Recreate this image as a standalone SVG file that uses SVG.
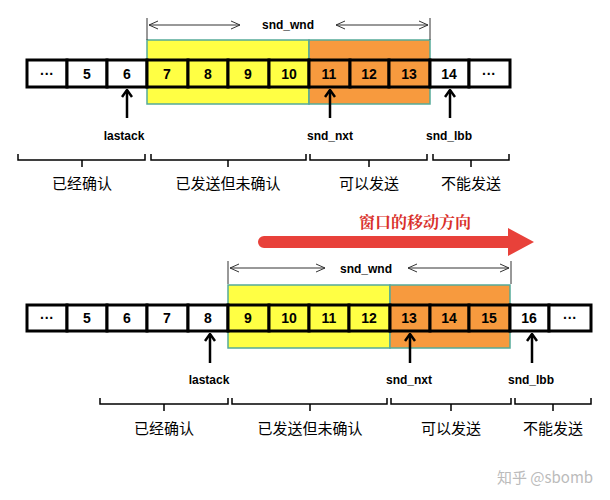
<svg xmlns="http://www.w3.org/2000/svg" width="610" height="500" viewBox="0 0 610 500">
<defs>
<marker id="open" markerWidth="10" markerHeight="10" refX="9" refY="5" orient="auto-start-reverse" markerUnits="userSpaceOnUse"><path d="M0,1 L9,5 L0,9" fill="none" stroke="#333" stroke-width="1"/></marker>
<marker id="up" markerWidth="12" markerHeight="12" refX="6" refY="1" orient="0" markerUnits="userSpaceOnUse"><path d="M1,8 L6,1 L11,8" fill="none" stroke="#000" stroke-width="2.5"/></marker>
</defs>
<style>
.c{fill:#fff;stroke:#000;stroke-width:3}
.y{fill:#ffff44}.o{fill:#f79a3e}
.t{font-family:"Liberation Sans",sans-serif;font-weight:bold;font-size:14px;text-anchor:middle}
.lab{font-family:"Liberation Sans",sans-serif;font-weight:bold;font-size:12px;text-anchor:middle}
.zh{font-family:"Noto Sans CJK SC",sans-serif;font-size:15px;text-anchor:middle}
.br{fill:none;stroke:#000;stroke-width:1.5}
.ar{stroke:#000;stroke-width:2.5;marker-end:url(#up)}
.w{stroke:#333;stroke-width:1;marker-start:url(#open);marker-end:url(#open)}
</style>
<rect width="610" height="500" fill="#fff"/>
<g id="top">
<rect x="147" y="40" width="162" height="64" class="y" stroke="#5a9" stroke-width="1.5"/>
<rect x="309" y="40" width="121" height="64" class="o" stroke="#5a9" stroke-width="1.5"/>
<g id="cells1">
<rect x="27" y="60" width="40" height="27" class="c"/><rect x="67" y="60" width="40" height="27" class="c"/><rect x="107" y="60" width="40" height="27" class="c"/>
<rect x="147" y="60" width="41" height="27" class="c y"/><rect x="188" y="60" width="40" height="27" class="c y"/><rect x="228" y="60" width="41" height="27" class="c y"/><rect x="269" y="60" width="40" height="27" class="c y"/>
<rect x="309" y="60" width="41" height="27" class="c o"/><rect x="350" y="60" width="39" height="27" class="c o"/><rect x="389" y="60" width="41" height="27" class="c o"/>
<rect x="430" y="60" width="39" height="27" class="c"/><rect x="469" y="60" width="41" height="27" class="c"/>
</g>
<g class="t">
<text x="47" y="79">···</text><text x="87" y="79">5</text><text x="127" y="79">6</text><text x="167" y="79">7</text><text x="208" y="79">8</text><text x="248" y="79">9</text><text x="289" y="79">10</text><text x="329" y="79">11</text><text x="369" y="79">12</text><text x="409" y="79">13</text><text x="449" y="79">14</text><text x="489" y="79">···</text>
</g>
<g class="lab"><text x="124" y="140">lastack</text><text x="330" y="140">snd_nxt</text><text x="449" y="140">snd_lbb</text><text x="288" y="29">snd_wnd</text></g>
<g class="zh"><text x="82" y="189">已经确认</text><text x="228" y="189">已发送但未确认</text><text x="369" y="189">可以发送</text><text x="471" y="189">不能发送</text></g>
</g>
<g id="bottom">
<path d="M264,236 H508 V228 L534,242 L508,256 V248 H264 A6,6 0 0 1 264,236 Z" fill="#e8413a"/>
<text x="415" y="228" font-family="Noto Serif CJK SC,Noto Sans CJK SC,serif" font-weight="bold" font-size="16" fill="#d9302a" text-anchor="middle">窗口的移动方向</text>
<rect x="228" y="285" width="162" height="63" class="y" stroke="#5a9" stroke-width="1.5"/>
<rect x="390" y="285" width="120" height="63" class="o" stroke="#5a9" stroke-width="1.5"/>
<g id="cells2">
<rect x="27" y="305" width="40" height="26" class="c"/><rect x="67" y="305" width="40" height="26" class="c"/><rect x="107" y="305" width="40" height="26" class="c"/><rect x="147" y="305" width="41" height="26" class="c"/><rect x="188" y="305" width="40" height="26" class="c"/>
<rect x="228" y="305" width="41" height="26" class="c y"/><rect x="269" y="305" width="40" height="26" class="c y"/><rect x="309" y="305" width="40" height="26" class="c y"/><rect x="349" y="305" width="41" height="26" class="c y"/>
<rect x="390" y="305" width="40" height="26" class="c o"/><rect x="430" y="305" width="39" height="26" class="c o"/><rect x="469" y="305" width="41" height="26" class="c o"/>
<rect x="510" y="305" width="39" height="26" class="c"/><rect x="549" y="305" width="42" height="26" class="c"/>
</g>
<g class="t">
<text x="47" y="323">···</text><text x="87" y="323">5</text><text x="127" y="323">6</text><text x="167" y="323">7</text><text x="208" y="323">8</text><text x="248" y="323">9</text><text x="289" y="323">10</text><text x="329" y="323">11</text><text x="369" y="323">12</text><text x="409" y="323">13</text><text x="449" y="323">14</text><text x="489" y="323">15</text><text x="529" y="323">16</text><text x="570" y="323">···</text>
</g>
<g class="lab"><text x="209" y="384">lastack</text><text x="409" y="384">snd_nxt</text><text x="531" y="384">snd_lbb</text><text x="366" y="273">snd_wnd</text></g>
<g class="zh"><text x="164" y="434">已经确认</text><text x="310" y="434">已发送但未确认</text><text x="451" y="434">可以发送</text><text x="553" y="434">不能发送</text></g>
<text x="545" y="483" font-family="Noto Sans CJK SC,sans-serif" font-size="15" fill="#bbb" text-anchor="middle">知乎 @sbomb</text>
</g>
<g id="connectors">
<line x1="147" y1="18" x2="147" y2="40" stroke="#333"/><line x1="430" y1="18" x2="430" y2="40" stroke="#333"/>
<line x1="149" y1="25" x2="240" y2="25" class="w" marker-end="none"/><line x1="336" y1="25" x2="428" y2="25" class="w" marker-start="none"/>
<line x1="228" y1="261" x2="228" y2="284" stroke="#333"/><line x1="511" y1="261" x2="511" y2="284" stroke="#333"/>
<line x1="230" y1="268" x2="325" y2="268" class="w" marker-end="none"/><line x1="408" y1="268" x2="509" y2="268" class="w" marker-start="none"/>
<line x1="127" y1="118" x2="127" y2="90" class="ar"/><line x1="330" y1="118" x2="330" y2="90" class="ar"/><line x1="450" y1="118" x2="450" y2="90" class="ar"/>
<line x1="210" y1="363" x2="210" y2="334" class="ar"/><line x1="410" y1="363" x2="410" y2="334" class="ar"/><line x1="532" y1="363" x2="532" y2="334" class="ar"/>
<path class="br" d="M18,154 V160 H145 V154 M82,160 V167"/>
<path class="br" d="M151,154 V160 H306 V154 M228,160 V167"/>
<path class="br" d="M310,154 V160 H427 V154 M369,160 V167"/>
<path class="br" d="M433,154 V160 H509 V154 M471,160 V167"/>
<path class="br" d="M100,398 V404 H228 V398 M164,404 V411"/>
<path class="br" d="M232,398 V404 H387 V398 M310,404 V411"/>
<path class="br" d="M391,398 V404 H511 V398 M451,404 V411"/>
<path class="br" d="M515,398 V404 H591 V398 M553,404 V411"/>
</g>
</svg>
